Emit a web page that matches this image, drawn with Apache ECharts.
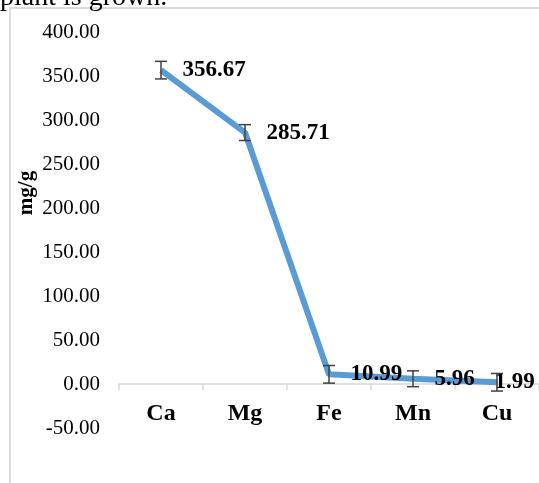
<!DOCTYPE html>
<html>
<head>
<meta charset="utf-8">
<script src="https://cdn.jsdelivr.net/npm/echarts@6/dist/echarts.min.js"></script>
<style>
  html, body { margin: 0; padding: 0; background: #fff; }
  #chart { width: 539px; height: 483px; }
</style>
</head>
<body>
<div id="chart"></div>
<script>
// 元素含量 (mg/g)
const elements = ['Ca', 'Mg', 'Fe', 'Mn', 'Cu'];
const contents = [356.67, 285.71, 10.99, 5.96, 1.99];
const errors = [10, 9, 10, 9, 10];
const yTicks = { min: -50, max: 400, step: 50 };

const serif = '"Liberation Serif", "DejaVu Serif", serif';

const chart = echarts.init(document.getElementById('chart'));

// error bar: vertical line plus two caps
function renderErrorBar(params, api) {
  const i = api.value(0);
  const hi = api.coord([i, api.value(1)]);
  const lo = api.coord([i, api.value(2)]);
  const w = 6;
  const style = { stroke: '#404040', lineWidth: 1.5 };
  return {
    type: 'group',
    children: [
      { type: 'line', shape: { x1: hi[0], y1: hi[1], x2: lo[0], y2: lo[1] }, style },
      { type: 'line', shape: { x1: hi[0] - w, y1: hi[1], x2: hi[0] + w, y2: hi[1] }, style },
      { type: 'line', shape: { x1: lo[0] - w, y1: lo[1], x2: lo[0] + w, y2: lo[1] }, style },
    ],
  };
}

const errorData = contents.map((v, i) => [i, v + errors[i], v - errors[i]]);

const lineData = contents.map((v, i) => {
  if (i === contents.length - 1) {
    // last label is pushed left by the chart edge
    return { value: v, label: { offset: [-24, 0] } };
  }
  return v;
});

chart.setOption({
  animation: false,
  textStyle: { fontFamily: serif },
  graphic: [
    {
      type: 'rect',
      shape: { x: 10, y: 8, width: 560, height: 500 },
      style: { fill: 'none', stroke: '#d9dde2', lineWidth: 2 },
      z: 0,
    },
    {
      type: 'text',
      left: 0,
      top: -16,
      style: { text: 'plant is grown.', font: '28px ' + serif, fill: '#000' },
    },
    {
      type: 'text',
      x: 27,
      y: 193,
      rotation: Math.PI / 2,
      style: {
        text: 'mg/g',
        font: 'bold 21px ' + serif,
        fill: '#000',
        align: 'center',
        verticalAlign: 'middle',
      },
    },
  ],
  grid: { left: 119, right: -4, top: 32, bottom: 55 },
  xAxis: {
    type: 'category',
    data: elements,
    axisLine: { onZero: true, lineStyle: { color: '#d9d9d9', width: 1.5 } },
    axisTick: { show: true, length: 6, lineStyle: { color: '#d9d9d9', width: 1.5 } },
    axisLabel: {
      margin: -26,
      color: '#000',
      fontWeight: 'bold',
      fontSize: 24,
      fontFamily: serif,
    },
  },
  yAxis: {
    type: 'value',
    min: yTicks.min,
    max: yTicks.max,
    interval: yTicks.step,
    axisLine: { show: false },
    axisTick: { show: false },
    splitLine: { show: false },
    axisLabel: {
      margin: 19,
      color: '#000',
      fontSize: 21,
      fontFamily: serif,
      formatter: (v) => v.toFixed(2),
    },
  },
  series: [
    {
      name: 'content',
      type: 'line',
      data: lineData,
      symbol: 'circle',
      symbolSize: 1,
      showSymbol: true,
      itemStyle: { color: '#5b9bd5' },
      lineStyle: { color: '#5b9bd5', width: 6 },
      z: 2,
      label: {
        show: true,
        position: 'right',
        distance: 21,
        color: '#000',
        fontWeight: 'bold',
        fontSize: 23,
        fontFamily: serif,
        formatter: (p) => p.value.toFixed(2),
      },
    },
    {
      name: 'error',
      type: 'custom',
      renderItem: renderErrorBar,
      data: errorData,
      z: 3,
    },
  ],
});
</script>
</body>
</html>
